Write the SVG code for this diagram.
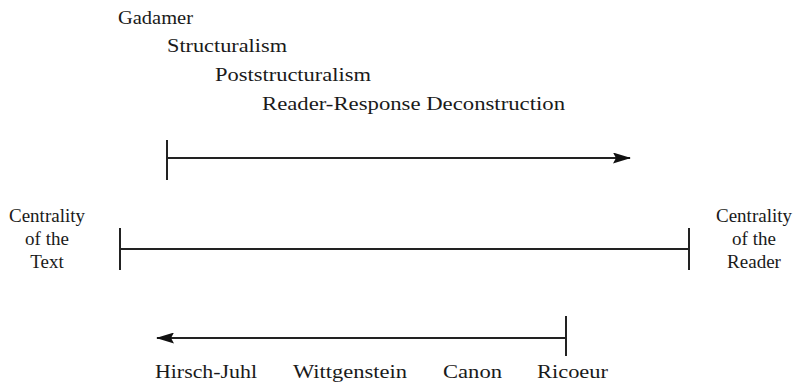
<svg xmlns="http://www.w3.org/2000/svg" width="800" height="388" viewBox="0 0 800 388">
  <style>
    .lbl { font-family: "Liberation Serif", "DejaVu Serif", serif; font-size: 19px; fill: #1a1a1a; }
    .mid { text-anchor: middle; }
    .ln { stroke: #222; stroke-width: 2; fill: none; }
  </style>
  <defs>
    <marker id="head" markerWidth="18" markerHeight="11" refX="17" refY="5.5" orient="auto" markerUnits="userSpaceOnUse">
      <path d="M0,0 L18,5.5 L0,11 L3,5.5 Z" fill="#111"/>
    </marker>
  </defs>
  <rect width="800" height="388" fill="#fff"/>

  <!-- schools above the scale -->
  <g id="gadamer"><text class="lbl" x="118" y="24" textLength="75" lengthAdjust="spacingAndGlyphs">Gadamer</text></g>
  <g id="structuralism"><text class="lbl" x="167" y="52" textLength="120" lengthAdjust="spacingAndGlyphs">Structuralism</text></g>
  <g id="poststructuralism"><text class="lbl" x="215" y="81" textLength="156" lengthAdjust="spacingAndGlyphs">Poststructuralism</text></g>
  <g id="reader-response"><text class="lbl" x="262" y="110" textLength="303" lengthAdjust="spacingAndGlyphs">Reader-Response Deconstruction</text></g>

  <!-- end labels -->
  <g id="text-end">
    <text class="lbl mid" x="47" y="222" textLength="76" lengthAdjust="spacingAndGlyphs">Centrality</text>
    <text class="lbl mid" x="47" y="245">of the</text>
    <text class="lbl mid" x="47" y="268">Text</text>
  </g>
  <g id="reader-end">
    <text class="lbl mid" x="754" y="222" textLength="76" lengthAdjust="spacingAndGlyphs">Centrality</text>
    <text class="lbl mid" x="754" y="245">of the</text>
    <text class="lbl mid" x="754" y="268">Reader</text>
  </g>

  <!-- thinkers below the scale -->
  <g id="hirsch"><text class="lbl" x="155" y="378" textLength="102" lengthAdjust="spacingAndGlyphs">Hirsch-Juhl</text></g>
  <g id="wittgenstein"><text class="lbl" x="293" y="378" textLength="114" lengthAdjust="spacingAndGlyphs">Wittgenstein</text></g>
  <g id="canon"><text class="lbl" x="443" y="378" textLength="59" lengthAdjust="spacingAndGlyphs">Canon</text></g>
  <g id="ricoeur"><text class="lbl" x="537" y="378" textLength="71" lengthAdjust="spacingAndGlyphs">Ricoeur</text></g>

  <g id="connectors">
    <!-- upper arrow toward the reader -->
    <line class="ln" x1="167" y1="140" x2="167" y2="180"/>
    <line class="ln" x1="167" y1="158" x2="630" y2="158" marker-end="url(#head)"/>
    <!-- central scale -->
    <line class="ln" x1="120" y1="228" x2="120" y2="270"/>
    <line class="ln" x1="689" y1="228" x2="689" y2="270"/>
    <line class="ln" x1="120" y1="249" x2="689" y2="249"/>
    <!-- lower arrow toward the text -->
    <line class="ln" x1="566" y1="316" x2="566" y2="356"/>
    <line class="ln" x1="566" y1="338" x2="157" y2="338" marker-end="url(#head)"/>
  </g>
</svg>
